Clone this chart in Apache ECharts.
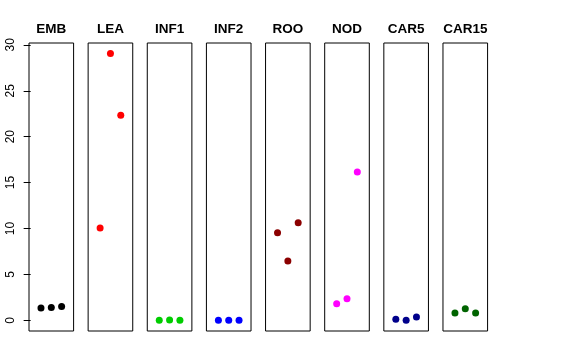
<!DOCTYPE html>
<html>
<head>
<meta charset="utf-8">
<script src="https://cdn.jsdelivr.net/npm/echarts@6/dist/echarts.min.js"></script>
<style>html,body{margin:0;padding:0;background:#fff;}#c{width:576px;height:360px;}</style>
</head>
<body>
<div id="c"></div>
<script>
var categories = ['EMB', 'LEA', 'INF1', 'INF2', 'ROO', 'NOD', 'CAR5', 'CAR15'];
var colors = ['#000000', '#FF0000', '#00CD00', '#0000FF', '#8B0000', '#FF00FF', '#00008B', '#006400'];
var EMB = [1.35, 1.4, 1.5];
var LEA = [10.05, 29.05, 22.33];
var INF1 = [0.0, 0.03, 0.0];
var INF2 = [0.0, 0.0, 0.0];
var ROO = [9.55, 6.46, 10.64];
var NOD = [1.82, 2.36, 16.14];
var CAR5 = [0.11, 0.0, 0.36];
var CAR15 = [0.8, 1.27, 0.8];
var values = [EMB, LEA, INF1, INF2, ROO, NOD, CAR5, CAR15];
var yTicks = [0, 5, 10, 15, 20, 25, 30];

var chart = echarts.init(document.getElementById('c'), null, {renderer: 'canvas'});
var grids = [], xAxes = [], yAxes = [], series = [], titles = [];
var L0 = 29, STEP = 59.14, W = 44.6;
categories.forEach(function (cat, i) {
  var left = L0 + i * STEP;
  grids.push({left: left, width: W, top: 43, bottom: 29, show: true, borderColor: '#000', borderWidth: 1, backgroundColor: 'transparent', containLabel: false});
  xAxes.push({gridIndex: i, type: 'value', min: -0.16, max: 4.16, show: false});
  yAxes.push({
    gridIndex: i, type: 'value', min: -1.16, max: 30.2,
    show: i === 0,
    splitLine: {show: false},
    axisLine: {show: false},
    axisTick: {show: i === 0, length: 7, lineStyle: {color: '#000'}, customValues: yTicks},
    axisLabel: {show: i === 0, rotate: 90, margin: 12, color: '#000', fontSize: 12, fontFamily: 'Liberation Sans, Arial, sans-serif', customValues: yTicks}
  });
  titles.push({text: cat, left: left + W / 2, top: 22.5, textAlign: 'center', padding: 0,
    textStyle: {fontSize: 13.5, fontWeight: 'bold', color: '#000', fontFamily: 'Liberation Sans, Arial, sans-serif'}});
  series.push({
    type: 'scatter', xAxisIndex: i, yAxisIndex: i, symbolSize: 7,
    itemStyle: {color: colors[i], opacity: 1},
    data: values[i].map(function (v, j) { return [j + 1, v]; }),
    silent: true, animation: false
  });
});
chart.setOption({
  animation: false,
  backgroundColor: '#fff',
  title: titles,
  grid: grids,
  xAxis: xAxes,
  yAxis: yAxes,
  series: series
});
</script>
</body>
</html>
